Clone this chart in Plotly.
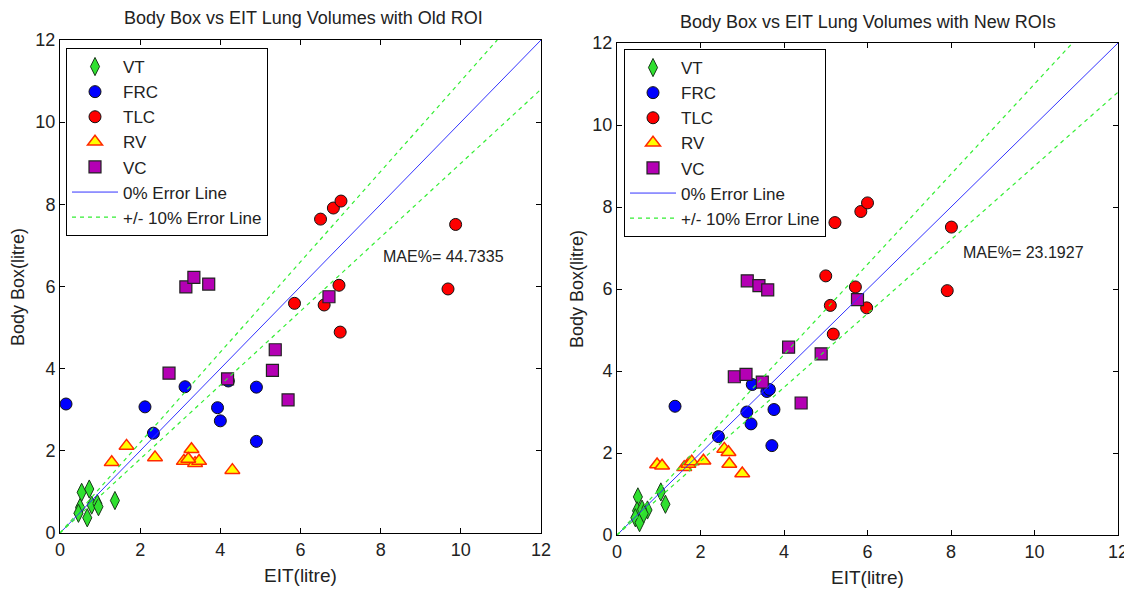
import plotly.graph_objects as go

# ---------------- data ----------------
# Left panel: Old ROI
vt_x_old = [0.54, 0.73, 0.50, 0.46, 0.68, 0.79, 0.93, 0.96, 1.37]
vt_y_old = [0.99, 1.07, 0.62, 0.48, 0.37, 0.68, 0.72, 0.64, 0.79]
frc_x_old = [0.15, 2.12, 2.33, 3.12, 3.93, 4.00, 4.90, 4.90, 4.20]
frc_y_old = [3.14, 3.07, 2.43, 3.56, 3.05, 2.73, 3.55, 2.23, 3.70]
tlc_x_old = [6.50, 6.82, 7.01, 9.87, 6.96, 9.68, 5.85, 6.59, 6.99]
tlc_y_old = [7.64, 7.91, 8.08, 7.51, 6.03, 5.94, 5.59, 5.55, 4.89]
rv_x_old = [1.29, 1.66, 2.37, 3.28, 3.09, 3.37, 3.47, 4.30, 3.20]
rv_y_old = [1.72, 2.12, 1.84, 2.04, 1.75, 1.70, 1.75, 1.53, 1.80]
vc_x_old = [3.14, 3.34, 3.71, 2.72, 4.18, 5.37, 5.30, 5.69, 6.71]
vc_y_old = [5.99, 6.22, 6.06, 3.89, 3.75, 4.46, 3.96, 3.24, 5.75]

# Right panel: New ROIs
vt_x_new = [0.50, 1.05, 1.16, 0.48, 0.73, 0.60, 0.44, 0.54, 0.64]
vt_y_new = [0.93, 1.05, 0.75, 0.59, 0.61, 0.63, 0.42, 0.30, 0.52]
frc_x_new = [1.39, 2.43, 3.11, 3.21, 3.24, 3.59, 3.65, 3.76, 3.71]
frc_y_new = [3.14, 2.40, 3.00, 2.71, 3.67, 3.50, 3.55, 3.06, 2.18]
tlc_x_new = [5.22, 5.84, 6.00, 8.01, 5.00, 5.71, 5.11, 5.98, 7.91, 5.18]
tlc_y_new = [7.62, 7.89, 8.10, 7.51, 6.32, 6.05, 5.60, 5.54, 5.96, 4.90]
rv_x_new = [0.96, 1.08, 1.61, 1.71, 1.79, 2.07, 2.57, 2.67, 2.69, 3.00]
rv_y_new = [1.72, 1.69, 1.65, 1.73, 1.79, 1.81, 2.10, 2.02, 1.73, 1.50]
vc_x_new = [3.12, 3.40, 3.61, 2.81, 3.09, 3.48, 4.11, 4.89, 4.41, 5.76]
vc_y_new = [6.20, 6.08, 5.98, 3.86, 3.92, 3.73, 4.58, 4.42, 3.22, 5.74]

line_x = [0, 12]
line_y = [0, 12]
upper_x = [0, 12 / 1.1]
upper_y = [0, 12]
lower_x = [0, 12]
lower_y = [0, 10.8]

mae_old = "MAE%= 44.7335"
mae_new = "MAE%= 23.1927"
ticks = [0, 2, 4, 6, 8, 10, 12]

FONT = "Liberation Sans, Arial, sans-serif"
TXT = "#222222"

fig = go.Figure()


def add_panel(xa, ya, legend, data):
    (vtx, vty, frcx, frcy, tlcx, tlcy, rvx, rvy, vcx, vcy) = data
    fig.add_trace(go.Scatter(x=vtx, y=vty, mode="markers", name="VT", xaxis=xa, yaxis=ya,
                             legend=legend,
                             marker=dict(symbol="diamond-tall", size=13, color="#2fe02f",
                                         line=dict(color="#1a3a1a", width=1))))
    fig.add_trace(go.Scatter(x=frcx, y=frcy, mode="markers", name="FRC", xaxis=xa, yaxis=ya,
                             legend=legend,
                             marker=dict(symbol="circle", size=12, color="#0000ff",
                                         line=dict(color="#111111", width=1))))
    fig.add_trace(go.Scatter(x=tlcx, y=tlcy, mode="markers", name="TLC", xaxis=xa, yaxis=ya,
                             legend=legend,
                             marker=dict(symbol="circle", size=12, color="#ff0000",
                                         line=dict(color="#111111", width=1))))
    fig.add_trace(go.Scatter(x=rvx, y=rvy, mode="markers", name="RV", xaxis=xa, yaxis=ya,
                             legend=legend,
                             marker=dict(symbol="triangle-up", size=13, color="#ffff00",
                                         line=dict(color="#ff2a00", width=1.5))))
    fig.add_trace(go.Scatter(x=vcx, y=vcy, mode="markers", name="VC", xaxis=xa, yaxis=ya,
                             legend=legend,
                             marker=dict(symbol="square", size=12, color="#b400b4",
                                         line=dict(color="#222222", width=1.2))))
    fig.add_trace(go.Scatter(x=line_x, y=line_y, mode="lines", name="0% Error Line",
                             xaxis=xa, yaxis=ya, legend=legend,
                             line=dict(color="#3333ff", width=1)))
    fig.add_trace(go.Scatter(x=upper_x, y=upper_y, mode="lines", name="+/- 10% Error Line",
                             xaxis=xa, yaxis=ya, legend=legend, legendgroup=legend + "err",
                             line=dict(color="#33ee33", width=1.2, dash="4px,4px")))
    fig.add_trace(go.Scatter(x=lower_x, y=lower_y, mode="lines", name="+/- 10% Error Line",
                             xaxis=xa, yaxis=ya, legend=legend, legendgroup=legend + "err",
                             showlegend=False,
                             line=dict(color="#33ee33", width=1.2, dash="4px,4px")))


add_panel("x", "y", "legend",
          (vt_x_old, vt_y_old, frc_x_old, frc_y_old, tlc_x_old, tlc_y_old,
           rv_x_old, rv_y_old, vc_x_old, vc_y_old))
add_panel("x2", "y2", "legend2",
          (vt_x_new, vt_y_new, frc_x_new, frc_y_new, tlc_x_new, tlc_y_new,
           rv_x_new, rv_y_new, vc_x_new, vc_y_new))

# The page body adds an 8px margin; the figure fills the rest of the window.
OFF = 8
W, H = 1132 - OFF, 590 - OFF


def fx(p):
    return (p - OFF) / W


def fy(p):
    return 1 - (p - OFF) / H


axis_common = dict(range=[0, 12], tickvals=ticks, ticks="inside", ticklen=5,
                   tickcolor="black", showline=True, linecolor="black", linewidth=1,
                   mirror="ticks", showgrid=False, zeroline=False, automargin=False,
                   tickfont=dict(family=FONT, size=18, color=TXT))

legend_common = dict(xanchor="left", yanchor="top", bordercolor="black", borderwidth=1,
                     bgcolor="white", font=dict(family=FONT, size=17, color=TXT),
                     tracegroupgap=0, itemwidth=46)

fig.update_layout(
    width=W, height=H,
    margin=dict(l=0, r=0, t=0, b=0, autoexpand=False),
    paper_bgcolor="white", plot_bgcolor="white",
    font=dict(family=FONT, size=15, color=TXT),
    xaxis=dict(domain=[fx(60), fx(541)], anchor="y", **axis_common),
    yaxis=dict(domain=[fy(533), fy(40)], anchor="x", **axis_common),
    xaxis2=dict(domain=[fx(617), fx(1118)], anchor="y2", **axis_common),
    yaxis2=dict(domain=[fy(535), fy(43)], anchor="x2", **axis_common),
    legend=dict(x=fx(66), y=fy(48), **legend_common),
    legend2=dict(x=fx(624), y=fy(49), **legend_common),
    showlegend=True,
)

annots = [
    dict(text="Body Box vs EIT Lung Volumes with Old ROI", x=fx(303), y=fy(18), size=18),
    dict(text="Body Box vs EIT Lung Volumes with New ROIs", x=fx(868), y=fy(22), size=18),
    dict(text="EIT(litre)", x=fx(300), y=fy(575), size=19),
    dict(text="EIT(litre)", x=fx(867), y=fy(577), size=19),
    dict(text="Body Box(litre)", x=fx(18), y=fy(287), size=18, textangle=-90),
    dict(text="Body Box(litre)", x=fx(577), y=fy(289), size=18, textangle=-90),
]
for a in annots:
    size = a.pop("size")
    fig.add_annotation(xref="paper", yref="paper", xanchor="center", yanchor="middle",
                       showarrow=False, font=dict(family=FONT, size=size, color=TXT), **a)

fig.add_annotation(xref="x", yref="y", x=8.0, y=6.72, text=mae_old, showarrow=False,
                   xanchor="left", yanchor="middle",
                   font=dict(family=FONT, size=16, color=TXT))
fig.add_annotation(xref="x2", yref="y2", x=8.25, y=6.89, text=mae_new, showarrow=False,
                   xanchor="left", yanchor="middle",
                   font=dict(family=FONT, size=16, color=TXT))

fig.write_html("out.html")
